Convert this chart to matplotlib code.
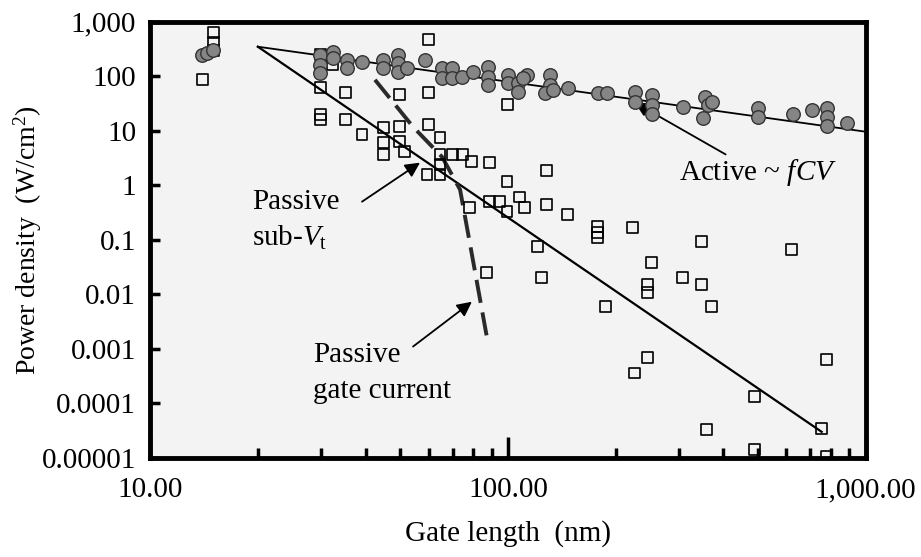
import numpy as np
import matplotlib.pyplot as plt
from matplotlib.ticker import FixedLocator, NullFormatter

plt.rcParams['font.family'] = ['Liberation Serif', 'DejaVu Serif']
plt.rcParams['mathtext.fontset'] = 'custom'
plt.rcParams['mathtext.rm'] = 'Liberation Serif'
plt.rcParams['mathtext.it'] = 'Liberation Serif:italic'

#################################################
#            Data
#################################################
# active power points (filled circles)
activeL = [14.0, 14.4, 15.0, 29.9, 29.9, 29.9, 32.4, 32.4, 35.5, 35.5, 39.1,
           44.8, 44.8, 49.3, 49.3, 49.3, 52.2, 58.6, 65.5, 65.5, 69.8, 69.8,
           74.5, 79.8, 87.9, 87.9, 87.9, 100, 100, 107, 107, 113, 110, 131,
           131, 127, 134, 147, 178, 189, 226, 226, 252, 252, 252, 308, 355,
           362, 351, 371, 499, 499, 625, 706, 780, 780, 780, 885]
activeP = [248, 270, 306, 248, 163, 116, 282, 218, 201, 143, 185,
           201, 143, 248, 177, 121, 143, 201, 143, 94, 143, 94,
           98, 121, 149, 98, 70, 107, 76, 76, 52, 107, 94, 107,
           70, 50, 56, 61, 50, 50, 52, 34, 46, 30, 20, 27.5, 42,
           30, 17, 34, 26, 18, 20, 24, 26, 18, 12, 14]

# passive power points (open squares)
passiveL = [14.0, 15.0, 15.0, 15.0, 29.9, 29.9, 29.9, 29.9, 32.4, 35.1, 35.1,
            39.1, 44.8, 44.8, 44.8, 49.9, 49.9, 49.9, 51.5, 59.4, 59.8, 59.8,
            59.8, 64.6, 64.6, 64.6, 64.6, 69.8, 74.5, 78.0, 79.3, 87.3, 89.0,
            89.0, 95.0, 99.4, 99.4, 100, 108, 111, 121, 124, 128, 128, 147,
            178, 178, 178, 187, 223, 226, 246, 246, 246, 252, 308, 348, 348,
            359, 371, 490, 490, 621, 753, 778, 778]
passiveP = [86, 628, 412, 300, 61.5, 19.7, 15.9, 248, 163, 49.8, 15.9,
            8.5, 11.3, 6.0, 3.6, 11.8, 6.3, 45.8, 4.1, 1.56, 12.9, 49.8,
            468, 7.4, 3.6, 2.4, 1.56, 3.6, 3.6, 0.39, 2.7, 0.025, 2.6,
            0.50, 0.50, 1.16, 0.33, 30, 0.61, 0.39, 0.074, 0.020, 1.9, 0.44, 0.29,
            0.173, 0.134, 0.109, 0.0059, 0.166, 0.00036, 0.015, 0.011, 0.00068,
            0.038, 0.020, 0.015, 0.092, 3.3e-5, 0.0059, 0.000131, 1.4e-5,
            0.066, 3.5e-5, 0.00063, 1.05e-5]

# trend lines
activeFitL = [20, 1000]
activeFitP = [348, 9.6]
subVtFitL = [20, 753]
subVtFitP = [348, 3.0e-5]
gateL = [42.5, 54.3, 65.5, 73.5, 79.8, 87.3]
gateP = [86, 11.8, 3.3, 0.83, 0.043, 0.00166]

yTicks = [1e-5, 1e-4, 1e-3, 1e-2, 1e-1, 1, 10, 100, 1000]
yTickLabels = ['0.00001', '0.0001', '0.001', '0.01', '0.1', '1', '10', '100', '1,000']
xTicks = [10, 100, 1000]
xTickLabels = ['10.00', '100.00', '1,000.00']

#################################################
#                    Plot
#################################################
fig = plt.figure(figsize=(9.21, 5.57), dpi=100)
ax = fig.add_axes([0.163, 0.178, 0.777, 0.783])
ax.set_facecolor('#f3f3f3')

ax.plot(activeFitL, activeFitP, color='black', lw=1.3, zorder=2)
ax.plot(subVtFitL, subVtFitP, color='black', lw=1.6, zorder=2)
ax.plot(gateL, gateP, color='#2a2a2a', lw=2.8, dashes=(6, 2.5), zorder=2)

ax.scatter(passiveL, passiveP, s=62, marker='s', facecolors='none',
           edgecolors='black', linewidths=1.2, zorder=3)
ax.scatter(activeL, activeP, s=95, marker='o', facecolors='#858585',
           edgecolors='#333333', linewidths=1.0, zorder=4)

ax.set_xscale('log')
ax.set_yscale('log')
ax.set_xlim(10, 1000)
ax.set_ylim(1e-5, 1000)

ax.yaxis.set_major_locator(FixedLocator(yTicks))
ax.set_yticklabels(yTickLabels)
ax.yaxis.set_minor_locator(FixedLocator([]))
ax.xaxis.set_major_locator(FixedLocator(xTicks))
ax.set_xticklabels(xTickLabels)
minorX = [v * d for d in (10, 100) for v in range(2, 10)]
ax.xaxis.set_minor_locator(FixedLocator(minorX))
ax.xaxis.set_minor_formatter(NullFormatter())

ax.tick_params(axis='both', which='major', direction='in', labelsize=21,
               width=2.5, length=10)
ax.tick_params(axis='x', which='major', length=15, pad=14)
ax.tick_params(axis='y', which='major', length=7, pad=10)
ax.tick_params(axis='x', which='minor', direction='in', width=2.5, length=7)

for sp in ax.spines.values():
    sp.set_linewidth(3.5)

ax.set_xlabel('Gate length  (nm)', fontsize=21, labelpad=12)
fig.text(28 / 921, 1 - 240 / 557, 'Power density  (W/cm$^2$)', fontsize=20,
         rotation=90, ha='center', va='center')

ax.annotate('Active ~ $fCV$', xy=(226, 33), xytext=(300, 1.7),
            fontsize=21, ha='left', va='center',
            arrowprops=dict(arrowstyle='-|>', color='black', lw=1.3,
                            mutation_scale=22, shrinkA=0, shrinkB=0))
ax.annotate('', xy=(56.8, 2.6), xytext=(39.1, 0.5),
            arrowprops=dict(arrowstyle='-|>', color='black', lw=1.3,
                            mutation_scale=22, shrinkA=0, shrinkB=0))
ax.text(19.3, 0.23, 'Passive\nsub-$V_{\\rm t}$', fontsize=21, ha='left',
        va='center', linespacing=1.4)
ax.annotate('', xy=(79.3, 0.0073), xytext=(54.3, 0.0011),
            arrowprops=dict(arrowstyle='-|>', color='black', lw=1.3,
                            mutation_scale=22, shrinkA=0, shrinkB=0))
ax.text(28.5, 0.00036, 'Passive\ngate current', fontsize=21, ha='left',
        va='center', linespacing=1.5)

fig.savefig('out.png', dpi=100)
